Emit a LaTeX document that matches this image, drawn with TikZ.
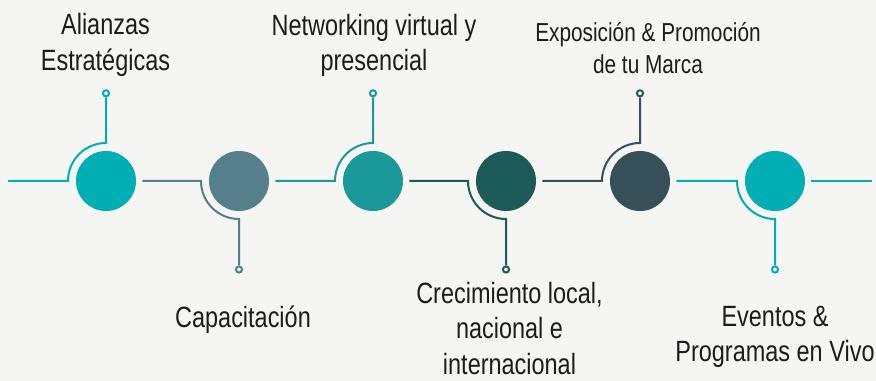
\documentclass[tikz,border=0pt]{standalone}
\usepackage{fontspec}
\setmainfont{Liberation Sans}[FakeStretch=0.8]
\usepackage{tikz}

\definecolor{bgcol}{RGB}{245,245,243}
\definecolor{txtcol}{RGB}{28,28,28}
\definecolor{colA}{RGB}{0,174,179}
\definecolor{colB}{RGB}{85,127,139}
\definecolor{colC}{RGB}{27,153,153}
\definecolor{colD}{RGB}{27,90,87}
\definecolor{colE}{RGB}{54,79,89}

\begin{document}
\begin{tikzpicture}[x=0.75pt,y=0.75pt,yscale=-1,xscale=1,
  disc/.style={circle,inner sep=0pt,minimum size=45pt,fill=#1},
  tip/.style={circle,inner sep=0pt,minimum size=4.6pt,draw=#1,fill=bgcol,line width=1.5pt},
  wire/.style={draw=#1,line width=1.5pt},
  label/.style={font=\fontsize{22}{26.5}\selectfont,text=txtcol,align=center,inner sep=0pt},
  smalllabel/.style={font=\fontsize{19.5}{24}\selectfont,text=txtcol,align=center,inner sep=0pt}]
%set diagram size 876 x 381
\fill[bgcol] (0,0) rectangle (876,381);
\useasboundingbox (0,0) rectangle (876,381);

%Shape: Circle
\node[disc=colA] (n1) at (106,181) {};
\node[disc=colB] (n2) at (239,181) {};
\node[disc=colC] (n3) at (373,181) {};
\node[disc=colD] (n4) at (506,181) {};
\node[disc=colE] (n5) at (640,181) {};
\node[disc=colA] (n6) at (775,181) {};

%Shape: end points
\node[tip=colA] (t1) at (106,93.3) {};
\node[tip=colB] (t2) at (239,269.5) {};
\node[tip=colC] (t3) at (373,93.3) {};
\node[tip=colD] (t4) at (506,269.5) {};
\node[tip=colE] (t5) at (640,93.3) {};
\node[tip=colA] (t6) at (775,269.5) {};

\coordinate (start) at (8,181);
\coordinate (stop) at (872,181);

%Straight Lines
\draw[wire=colA] (start) -- ([xshift=-28.5pt]n1.center) arc[start angle=180,end angle=270,radius=38] -- (t1);
\draw[wire=colB] ([xshift=4.5pt]n1.east) -- ([xshift=-28.5pt]n2.center) arc[start angle=180,end angle=90,radius=38] -- (t2);
\draw[wire=colC] ([xshift=4.5pt]n2.east) -- ([xshift=-28.5pt]n3.center) arc[start angle=180,end angle=270,radius=38] -- (t3);
\draw[wire=colD] ([xshift=4.5pt]n3.east) -- ([xshift=-28.5pt]n4.center) arc[start angle=180,end angle=90,radius=38] -- (t4);
\draw[wire=colE] ([xshift=4.5pt]n4.east) -- ([xshift=-28.5pt]n5.center) arc[start angle=180,end angle=270,radius=38] -- (t5);
\draw[wire=colA] ([xshift=4.5pt]n5.east) -- ([xshift=-28.5pt]n6.center) arc[start angle=180,end angle=90,radius=38] -- (t6);
\draw[wire=colA] ([xshift=4.5pt]n6.east) -- (stop);

% Text Node
\node[label] (l1) at (105.5,44.8) {Alianzas\\Estratégicas};
% Text Node
\node[label] (l2) at (243,319.3) {Capacitación};
% Text Node
\node[label] (l3) at (374,45.2) {Networking virtual y\\presencial};
% Text Node
\node[label] (l4) at (509.5,328.5) {Crecimiento local,\\nacional e\\internacional};
% Text Node
\node[smalllabel] (l5) at (648,47.7) {Exposición \& Promoción\\de tu Marca};
% Text Node
\node[label] (l6) at (775,336.8) {Eventos \&\\Programas en Vivo};

\end{tikzpicture}
\end{document}
